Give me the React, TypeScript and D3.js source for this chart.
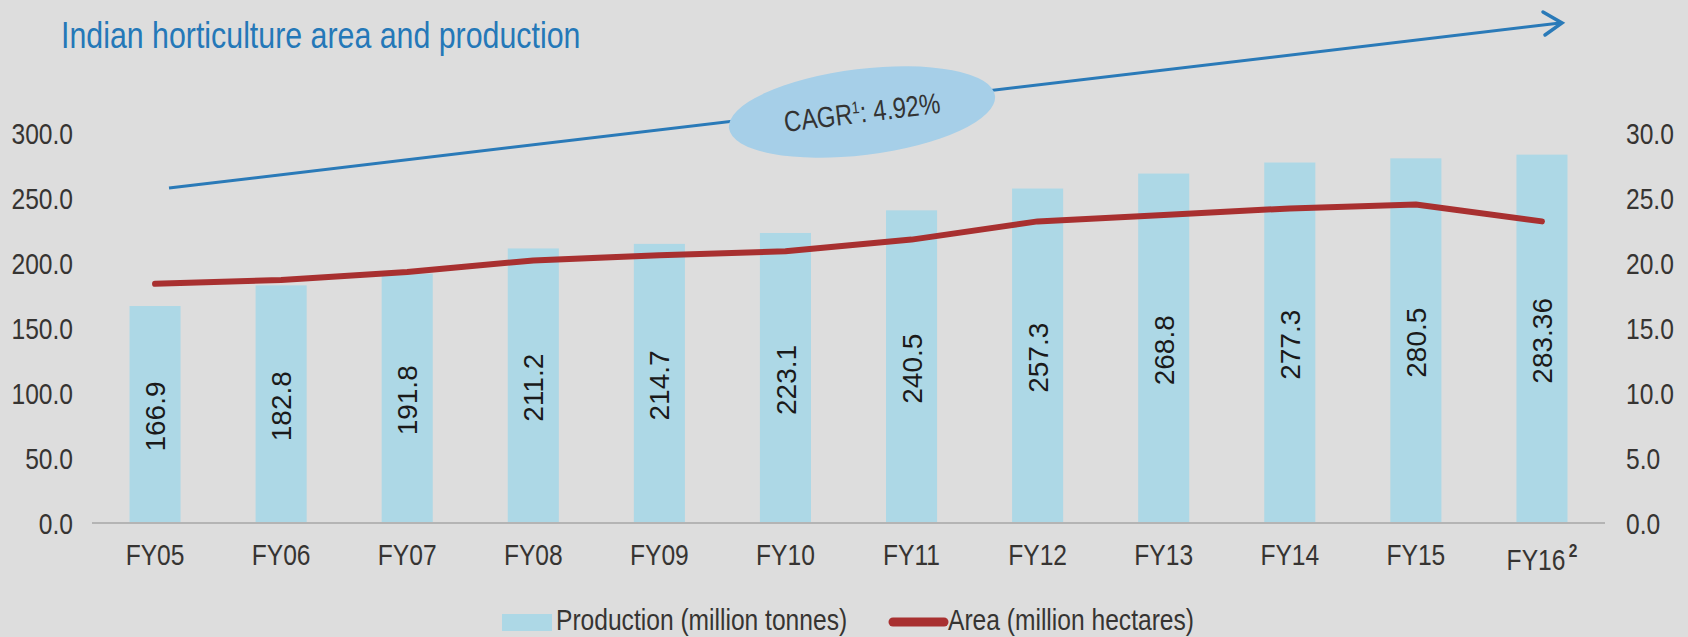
import React, { useEffect, useRef } from 'react';
import * as d3 from 'd3';

// chart data
const years = ['FY05', 'FY06', 'FY07', 'FY08', 'FY09', 'FY10', 'FY11', 'FY12', 'FY13', 'FY14', 'FY15', 'FY16'];
const production = [166.9, 182.8, 191.8, 211.2, 214.7, 223.1, 240.5, 257.3, 268.8, 277.3, 280.5, 283.36];
const productionLabels = ['166.9', '182.8', '191.8', '211.2', '214.7', '223.1', '240.5', '257.3', '268.8', '277.3', '280.5', '283.36'];
const area = [18.4, 18.7, 19.3, 20.2, 20.6, 20.9, 21.8, 23.2, 23.7, 24.2, 24.5, 23.2];
const leftTicks = [0, 50, 100, 150, 200, 250, 300];
const rightTicks = [0, 5, 10, 15, 20, 25, 30];

const FONT = "'Liberation Sans', Arial, sans-serif";
// no Arial Narrow installed, so squeeze the regular face horizontally
const squeeze = (x: number, y: number) => `translate(${x},${y}) scale(0.82,1)`;

const App = () => {
    const svgRef = useRef<SVGSVGElement | null>(null);

    useEffect(() => {
        const width = 1688;
        const height = 637;
        const axisLeft = 92;
        const axisRight = 1605;
        const baseY = 523;
        const topY = 133;

        const svg = d3.select(svgRef.current);
        svg.selectAll('*').remove();
        svg.attr('width', width).attr('height', height);

        svg.append('rect').attr('width', width).attr('height', height).attr('fill', '#dddddd');

        const x = d3.scaleBand().domain(years).range([axisLeft, axisRight]).paddingInner(0.595).paddingOuter(0.2975);
        const yLeft = d3.scaleLinear().domain([0, 300]).range([baseY, topY]);
        const yRight = d3.scaleLinear().domain([0, 30]).range([baseY, topY]);
        const cx = (d: string) => (x(d) as number) + x.bandwidth() / 2;

        // title
        svg.append('text')
            .attr('transform', squeeze(61, 48))
            .style('font-family', FONT).style('font-size', '37px')
            .attr('fill', '#2478b8')
            .text('Indian horticulture area and production');

        // left ticks
        svg.append('g').selectAll('text').data(leftTicks).join('text')
            .attr('transform', d => squeeze(73, yLeft(d)))
            .attr('dy', '0.36em')
            .attr('text-anchor', 'end')
            .style('font-family', FONT).style('font-size', '30px')
            .attr('fill', '#363432')
            .text(d => d.toFixed(1));

        // right ticks
        svg.append('g').selectAll('text').data(rightTicks).join('text')
            .attr('transform', d => squeeze(1626, yRight(d)))
            .attr('dy', '0.36em')
            .attr('text-anchor', 'start')
            .style('font-family', FONT).style('font-size', '30px')
            .attr('fill', '#363432')
            .text(d => d.toFixed(1));

        // bars
        svg.append('g').selectAll('rect').data(production).join('rect')
            .attr('x', (d, i) => x(years[i]) as number)
            .attr('y', d => yLeft(d))
            .attr('width', x.bandwidth())
            .attr('height', d => baseY - yLeft(d))
            .attr('fill', '#add8e6');

        // axis line
        svg.append('line')
            .attr('x1', axisLeft).attr('x2', axisRight)
            .attr('y1', baseY).attr('y2', baseY)
            .attr('stroke', '#b4b4b4').attr('stroke-width', 2);

        // bar value labels
        svg.append('g').selectAll('text').data(production).join('text')
            .attr('transform', (d, i) => `translate(${cx(years[i])},${(yLeft(d) + baseY) / 2 + 2}) rotate(-90)`)
            .attr('text-anchor', 'middle').attr('dy', '0.36em')
            .style('font-family', FONT).style('font-size', '28px')
            .attr('fill', '#1a1a1a')
            .text((d, i) => productionLabels[i]);

        // area line
        const line = d3.line<number>()
            .x((d, i) => cx(years[i]))
            .y(d => yRight(d));
        svg.append('path')
            .datum(area)
            .attr('d', line)
            .attr('fill', 'none')
            .attr('stroke', '#a83030')
            .attr('stroke-width', 6)
            .attr('stroke-linejoin', 'round')
            .attr('stroke-linecap', 'round');

        // x labels
        const xl = svg.append('g').selectAll('text').data(years).join('text')
            .attr('transform', d => squeeze(cx(d), d === 'FY16' ? 570 : 565))
            .attr('text-anchor', 'middle')
            .style('font-family', FONT).style('font-size', '30px')
            .attr('fill', '#363432');
        xl.text(d => d);
        xl.filter(d => d === 'FY16').append('tspan')
            .attr('dx', 4).attr('dy', -13).style('font-size', '19px').style('font-weight', 'bold').text('2');

        // CAGR arrow
        svg.append('line')
            .attr('x1', 169).attr('y1', 188).attr('x2', 1560).attr('y2', 23)
            .attr('stroke', '#2a7ab8').attr('stroke-width', 3);
        svg.append('path')
            .attr('d', 'M1543,12 L1562,23 L1545,35')
            .attr('fill', 'none').attr('stroke', '#2a7ab8').attr('stroke-width', 3.5)
            .attr('stroke-linecap', 'round');

        const bubble = svg.append('g').attr('transform', 'translate(862,112) rotate(-7)');
        bubble.append('ellipse').attr('rx', 134).attr('ry', 43).attr('fill', '#a6cfe8');
        const cagr = bubble.append('text')
            .attr('transform', 'scale(0.82,1)')
            .attr('text-anchor', 'middle').attr('dy', '0.36em')
            .style('font-family', FONT).style('font-size', '29px')
            .attr('fill', '#333333');
        cagr.append('tspan').text('CAGR');
        cagr.append('tspan').attr('dy', -10).style('font-size', '17px').text('1');
        cagr.append('tspan').attr('dy', 10).text(': 4.92%');

        // legend
        const legend = svg.append('g');
        legend.append('rect').attr('x', 502).attr('y', 614).attr('width', 50).attr('height', 17).attr('fill', '#add8e6');
        legend.append('text').attr('transform', squeeze(556, 630))
            .style('font-family', FONT).style('font-size', '30px').attr('fill', '#363432')
            .text('Production (million tonnes)');
        legend.append('line').attr('x1', 893).attr('x2', 944).attr('y1', 622).attr('y2', 622)
            .attr('stroke', '#a83030').attr('stroke-width', 9).attr('stroke-linecap', 'round');
        legend.append('text').attr('transform', squeeze(948, 630))
            .style('font-family', FONT).style('font-size', '30px').attr('fill', '#363432')
            .text('Area (million hectares)');
    }, []);

    return (
        <div style={{ position: 'absolute', left: 0, top: 0 }}>
            <svg ref={svgRef} style={{ display: 'block' }}></svg>
        </div>
    );
};

export default App;
